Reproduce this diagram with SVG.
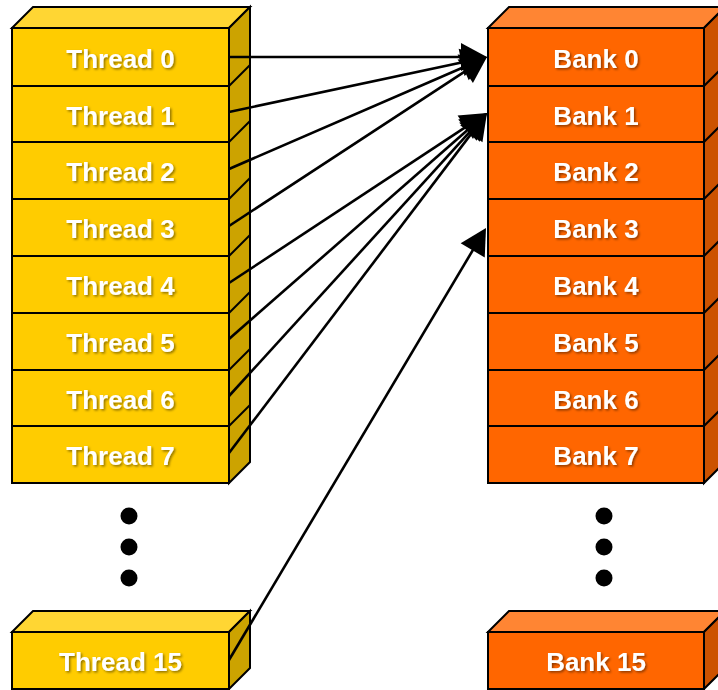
<svg xmlns="http://www.w3.org/2000/svg" width="718" height="690" viewBox="0 0 718 690">
  <defs>
    <style>
      .edge { stroke: #000; stroke-width: 2; stroke-linejoin: miter; }
      .t-front { fill: #FFCC00; }
      .t-top { fill: #FFD633; }
      .t-side { fill: #CCA300; }
      .b-front { fill: #FF6600; }
      .b-top { fill: #FF8533; }
      .b-side { fill: #CC5200; }
      .label { font-family: "Liberation Sans", Arial, sans-serif; font-weight: bold; font-size: 26px; fill: #fff; text-anchor: middle; filter: url(#shadow); }
      .wire { stroke: #000; stroke-width: 2.6; fill: none; marker-end: url(#head); }
      .dot { fill: #000; }
    </style>
    <filter id="shadow" x="-10%" y="-30%" width="120%" height="160%">
      <feDropShadow dx="1.5" dy="1.5" stdDeviation="0.8" flood-color="#000" flood-opacity="0.45"/>
    </filter>
    <marker id="head" markerUnits="userSpaceOnUse" markerWidth="26" markerHeight="28" refX="18" refY="14" orient="auto" overflow="visible">
      <path d="M0,0 L26,14 L0,28 Z" fill="#000"/>
    </marker>
  </defs>

  <!-- thread stack: top and side faces -->
  <g id="thread-stack">
    <polygon class="t-top edge" points="12,28 33,7 250,7 229,28"/>
    <polygon class="t-side edge" points="229,28 250,7 250,462 229,483"/>
    <g class="edge" fill="none">
      <line x1="229" y1="86" x2="250" y2="65"/>
      <line x1="229" y1="142" x2="250" y2="121"/>
      <line x1="229" y1="199" x2="250" y2="178"/>
      <line x1="229" y1="256" x2="250" y2="235"/>
      <line x1="229" y1="313" x2="250" y2="292"/>
      <line x1="229" y1="370" x2="250" y2="349"/>
      <line x1="229" y1="426" x2="250" y2="405"/>
    </g>
  </g>
  <g id="thread-0"><rect class="t-front edge" x="12" y="28" width="217" height="58"/><text class="label" x="120.5" y="67.5">Thread 0</text></g>
  <g id="thread-1"><rect class="t-front edge" x="12" y="86" width="217" height="56"/><text class="label" x="120.5" y="124.5">Thread 1</text></g>
  <g id="thread-2"><rect class="t-front edge" x="12" y="142" width="217" height="57"/><text class="label" x="120.5" y="181">Thread 2</text></g>
  <g id="thread-3"><rect class="t-front edge" x="12" y="199" width="217" height="57"/><text class="label" x="120.5" y="238">Thread 3</text></g>
  <g id="thread-4"><rect class="t-front edge" x="12" y="256" width="217" height="57"/><text class="label" x="120.5" y="295">Thread 4</text></g>
  <g id="thread-5"><rect class="t-front edge" x="12" y="313" width="217" height="57"/><text class="label" x="120.5" y="352">Thread 5</text></g>
  <g id="thread-6"><rect class="t-front edge" x="12" y="370" width="217" height="56"/><text class="label" x="120.5" y="408.5">Thread 6</text></g>
  <g id="thread-7"><rect class="t-front edge" x="12" y="426" width="217" height="57"/><text class="label" x="120.5" y="465">Thread 7</text></g>

  <g id="thread-ellipsis">
    <circle class="dot" cx="129" cy="516" r="8.5"/>
    <circle class="dot" cx="129" cy="547" r="8.5"/>
    <circle class="dot" cx="129" cy="578" r="8.5"/>
  </g>

  <g id="thread-15">
    <polygon class="t-top edge" points="12,632 33,611 250,611 229,632"/>
    <polygon class="t-side edge" points="229,632 250,611 250,668 229,689"/>
    <rect class="t-front edge" x="12" y="632" width="217" height="57"/>
    <text class="label" x="120.5" y="671">Thread 15</text>
  </g>

  <!-- bank stack: top and side faces -->
  <g id="bank-stack">
    <polygon class="b-top edge" points="488,28 509,7 725,7 704,28"/>
    <polygon class="b-side edge" points="704,28 725,7 725,462 704,483"/>
    <g class="edge" fill="none">
      <line x1="704" y1="86" x2="725" y2="65"/>
      <line x1="704" y1="142" x2="725" y2="121"/>
      <line x1="704" y1="199" x2="725" y2="178"/>
      <line x1="704" y1="256" x2="725" y2="235"/>
      <line x1="704" y1="313" x2="725" y2="292"/>
      <line x1="704" y1="370" x2="725" y2="349"/>
      <line x1="704" y1="426" x2="725" y2="405"/>
    </g>
  </g>
  <g id="bank-0"><rect class="b-front edge" x="488" y="28" width="216" height="58"/><text class="label" x="596" y="67.5">Bank 0</text></g>
  <g id="bank-1"><rect class="b-front edge" x="488" y="86" width="216" height="56"/><text class="label" x="596" y="124.5">Bank 1</text></g>
  <g id="bank-2"><rect class="b-front edge" x="488" y="142" width="216" height="57"/><text class="label" x="596" y="181">Bank 2</text></g>
  <g id="bank-3"><rect class="b-front edge" x="488" y="199" width="216" height="57"/><text class="label" x="596" y="238">Bank 3</text></g>
  <g id="bank-4"><rect class="b-front edge" x="488" y="256" width="216" height="57"/><text class="label" x="596" y="295">Bank 4</text></g>
  <g id="bank-5"><rect class="b-front edge" x="488" y="313" width="216" height="57"/><text class="label" x="596" y="352">Bank 5</text></g>
  <g id="bank-6"><rect class="b-front edge" x="488" y="370" width="216" height="56"/><text class="label" x="596" y="408.5">Bank 6</text></g>
  <g id="bank-7"><rect class="b-front edge" x="488" y="426" width="216" height="57"/><text class="label" x="596" y="465">Bank 7</text></g>

  <g id="bank-ellipsis">
    <circle class="dot" cx="604" cy="516" r="8.5"/>
    <circle class="dot" cx="604" cy="547" r="8.5"/>
    <circle class="dot" cx="604" cy="578" r="8.5"/>
  </g>

  <g id="bank-15">
    <polygon class="b-top edge" points="488,632 509,611 725,611 704,632"/>
    <polygon class="b-side edge" points="704,632 725,611 725,668 704,689"/>
    <rect class="b-front edge" x="488" y="632" width="216" height="57"/>
    <text class="label" x="596" y="671">Bank 15</text>
  </g>

  <!-- thread-to-bank accesses -->
  <g id="connectors">
    <line class="wire" x1="229" y1="57" x2="479" y2="57"/>
    <line class="wire" x1="229" y1="112" x2="479.18" y2="58.67"/>
    <line class="wire" x1="229" y1="169" x2="479.66" y2="60.19"/>
    <line class="wire" x1="229" y1="226" x2="480.31" y2="61.38"/>
    <line class="wire" x1="229" y1="283" x2="480.32" y2="117.40"/>
    <line class="wire" x1="229" y1="339" x2="480.98" y2="118.27"/>
    <line class="wire" x1="229" y1="396" x2="481.61" y2="118.91"/>
    <line class="wire" x1="229" y1="453" x2="482.16" y2="119.37"/>
    <line class="wire" x1="229" y1="660" x2="481.91" y2="234.88"/>
  </g>
</svg>
